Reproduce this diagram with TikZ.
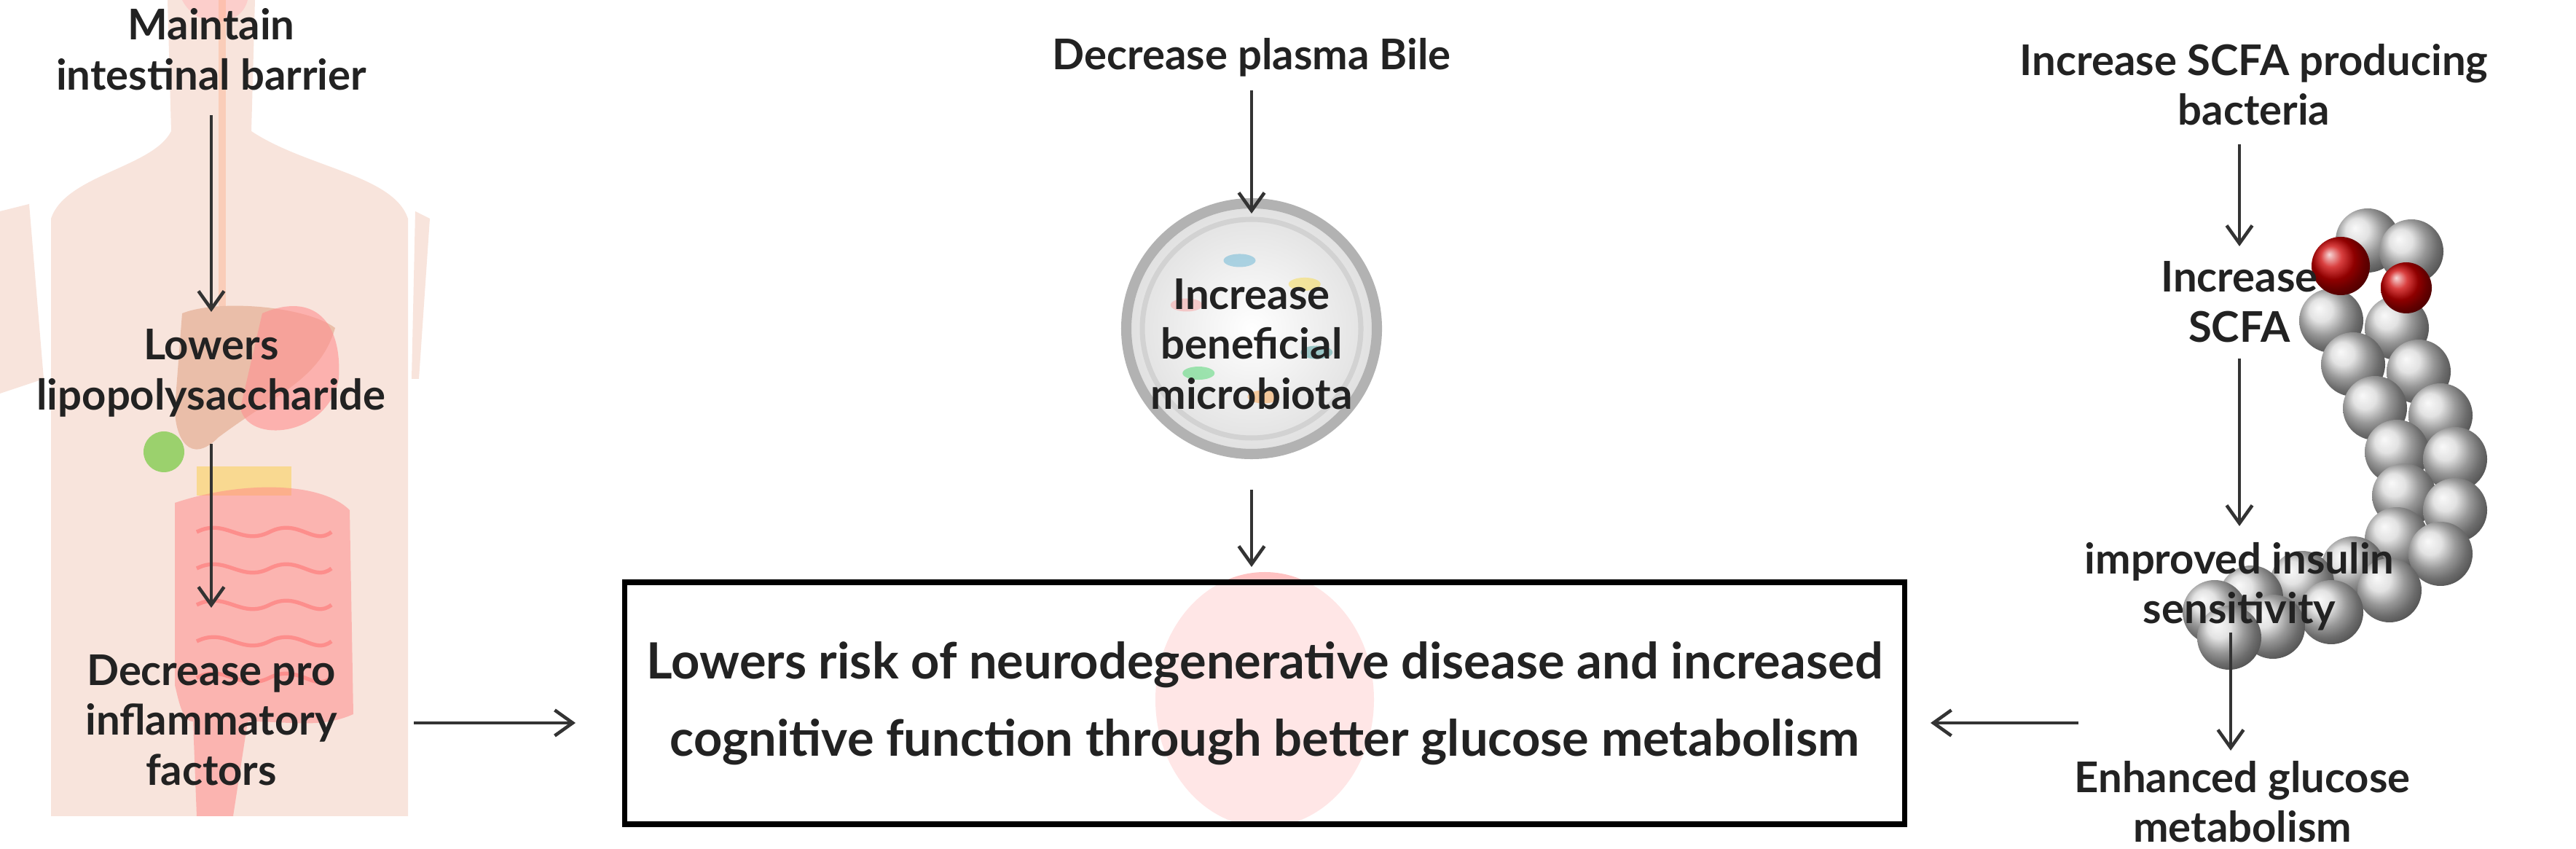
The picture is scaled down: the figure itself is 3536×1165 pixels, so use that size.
\documentclass[tikz,border=0pt]{standalone}
\usepackage{fontspec}
\setmainfont{Lato}
\usetikzlibrary{arrows.meta,shapes.geometric}
\definecolor{skin}{HTML}{F8E4DC}
\definecolor{txt}{HTML}{222222}
\begin{document}
\begin{tikzpicture}[x=0.01cm,y=-0.01cm,
 lbl/.style={font=\bfseries\fontsize{16.5}{19.5}\selectfont,text=txt,align=center,inner sep=1pt},
 arr/.style={-{Straight Barb[length=7pt,width=10pt]},line width=1.3pt,draw=black!80},
 ball/.style={ball color=gray!30,draw=none}]
\useasboundingbox (0,0) rectangle (3536,1165);
\fill[white] (0,0) rectangle (3536,1165);
% body silhouette
\fill[skin] (230,0) -- (350,0) -- (345,180) .. controls (420,230) and (540,240) .. (560,300) -- (560,1120) -- (70,1120) -- (70,300) .. controls (90,240) and (210,230) .. (235,180) -- cycle;
\fill[skin] (0,290) -- (40,280) -- (60,520) -- (0,540) -- cycle;
\fill[skin] (570,290) -- (590,300) -- (575,520) -- (565,520) -- cycle;
\fill[pink!60!skin] (250,0) .. controls (270,40) and (330,40) .. (340,0) -- cycle;
\draw[pink!70!orange,line width=3pt,opacity=.4] (305,0) -- (305,420);
% organs
\fill[brown!50!pink,opacity=.55] (250,430) .. controls (300,410) and (420,420) .. (460,450) .. controls (440,520) and (380,540) .. (300,600) .. controls (260,640) and (240,600) .. (240,560) -- cycle;
\fill[red!25!pink,opacity=.6] (360,430) .. controls (430,400) and (470,440) .. (465,520) .. controls (450,600) and (340,610) .. (330,560) -- cycle;
\fill[green!50!olive,opacity=.5] (225,620) circle (28);
\fill[yellow!60!orange,opacity=.35] (270,640) rectangle (400,680);
\fill[red!30!pink,opacity=.5] (240,690) .. controls (330,660) and (440,660) .. (480,700) -- (485,980) .. controls (440,1000) and (400,990) .. (340,990) -- (320,1120) -- (270,1120) -- (265,990) .. controls (250,990) and (245,960) .. (240,940) -- cycle;
\foreach \y in {730,780,830,880,930} {\draw[red!45!pink,line width=1.5pt,opacity=.5] (270,\y) .. controls (310,\y-20) and (330,\y+20) .. (370,\y) .. controls (410,\y-20) and (430,\y+20) .. (455,\y);}
% microbiota circle
\shade[inner color=white,outer color=gray!25] (1718,451) circle (176);
\draw[gray!60,line width=4pt] (1718,451) circle (172);
\draw[gray!35,line width=2pt] (1718,451) circle (150);
\foreach \a/\c in {20/teal,80/orange,140/green!60!teal,200/red!50,260/cyan!60!teal,320/yellow!70!orange} {\fill[\c,opacity=.35] (1718,451) ++(\a:95) ellipse (22 and 9);}
% molecule
\foreach \x/\y in {3250/330,3310/345,3200/440,3290/450,3230/500,3320/510,3260/560,3350/570,3290/620,3370/630,3300/680,3370/700,3290/740,3350/760,3230/780,3280/810,3160/800,3200/840,3090/820,3120/860,3040/840,3060/875}{\shade[ball] (\x,\y) circle (44);}
\shade[ball color=red!80!black] (3213,365) circle (40);
\shade[ball color=red!80!black] (3303,395) circle (35);
% brain
\fill[red!25!pink,opacity=.55] (1736,960) ellipse (150 and 175);
\fill[white,opacity=.6] (860,800) rectangle (2614,1130);
% texts
\node[lbl] (a1) at (290,68) {Maintain\\intestinal barrier};
\node[lbl] (a2) at (290,512) {Lowers\\lipopolysaccharide};
\node[lbl] (a3) at (290,988) {Decrease pro\\inflammatory\\factors};
\node[lbl] (b1) at (1718,79) {Decrease plasma Bile};
\node[lbl] (b2) at (1718,472) {Increase\\beneficial\\microbiota};
\node[lbl] (c1) at (3094,116) {Increase SCFA producing\\bacteria};
\node[lbl] (c2) at (3074,414) {Increase\\SCFA};
\node[lbl] (c3) at (3074,805) {improved insulin\\sensitivity};
\node[lbl] (c4) at (3078,1100) {Enhanced glucose\\metabolism};
\node[draw=black,line width=2.2pt,minimum width=17.56cm,minimum height=3.32cm,text=txt,align=center,
 font=\bfseries\fontsize{19.5}{30}\selectfont] (box) at (1736,965)
 {Lowers risk of neurodegenerative disease and increased\\cognitive function through better glucose metabolism};
% arrows
\draw[arr] (290,158) -- (290,428);
\draw[arr] (290,609) -- (290,834);
\draw[arr] (568,992) -- (790,992);
\draw[arr] (1718,124) -- (1718,293);
\draw[arr] (1718,672) -- (1718,778);
\draw[arr] (3074,198) -- (3074,338);
\draw[arr] (3074,492) -- (3074,722);
\draw[arr] (3062,868) -- (3062,1030);
\draw[arr] (2853,992) -- (2650,992);
\end{tikzpicture}
\end{document}
